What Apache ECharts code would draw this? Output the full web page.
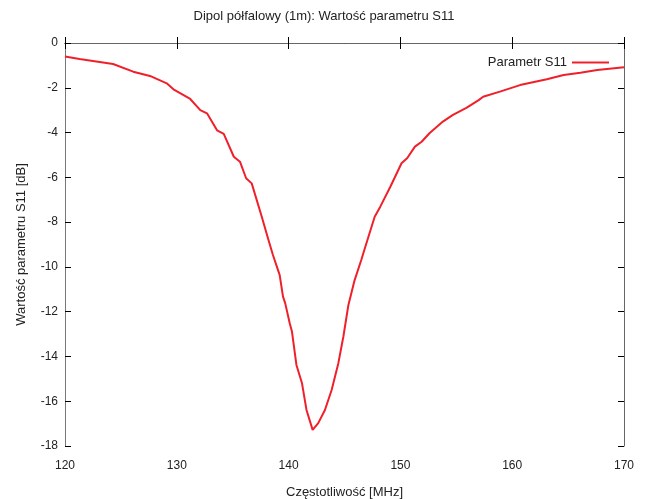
<!DOCTYPE html>
<html>
<head>
<meta charset="utf-8">
<script src="https://cdn.jsdelivr.net/npm/echarts@6/dist/echarts.min.js"></script>
<style>html,body{margin:0;padding:0;background:#fff}#c{width:648px;height:499px}</style>
</head>
<body>
<div id="c"></div>
<script>
var freq = [120.0,121.3,122.5,124.3,126.1,127.6,129.1,129.7,131.2,132.1,132.7,133.6,134.2,135.1,135.65,136.2,136.7,137.6,138.2,138.6,139.1,139.2,139.5,139.7,140.1,140.3,140.7,141.2,141.6,142.15,142.65,143.25,143.85,144.45,144.9,145.35,145.9,146.5,146.8,147.7,148.2,149.1,150.1,150.6,151.3,151.9,152.6,153.8,154.7,155.9,157.0,157.4,158.9,160.7,163.1,164.6,166.1,167.6,170.0];
var s11 = [-0.60,-0.71,-0.80,-0.94,-1.28,-1.47,-1.80,-2.07,-2.50,-3.00,-3.14,-3.90,-4.06,-5.08,-5.30,-6.04,-6.27,-7.76,-8.80,-9.47,-10.21,-10.36,-11.33,-11.63,-12.52,-12.89,-14.38,-15.20,-16.39,-17.28,-16.98,-16.39,-15.50,-14.30,-13.11,-11.70,-10.60,-9.69,-9.20,-7.76,-7.31,-6.42,-5.37,-5.15,-4.63,-4.41,-4.03,-3.51,-3.21,-2.90,-2.55,-2.40,-2.17,-1.88,-1.62,-1.43,-1.33,-1.21,-1.08];
var title = 'Dipol półfalowy (1m): Wartość parametru S11';
var seriesName = 'Parametr S11';
var xName = 'Częstotliwość [MHz]';
var yName = 'Wartość parametru S11 [dB]';

var FONT = '"Liberation Sans",Arial,sans-serif';
var data = freq.map(function(f,i){return [f, s11[i]];});
var tick = {show:true, inside:true, length:6, lineStyle:{color:'#000'}};
var chart = echarts.init(document.getElementById('c'));
chart.setOption({
  animation:false,
  title:{text:title, left:'center', top:5, textStyle:{fontFamily:FONT, fontSize:13, fontWeight:'normal', color:'#222'}},
  legend:{right:34, top:51, itemWidth:37, itemHeight:2, align:'right', icon:'rect', itemGap:6,
    textStyle:{fontFamily:FONT, fontSize:13, color:'#222'}, data:[seriesName]},
  grid:{left:65, right:24, top:43, bottom:53, containLabel:false, outerBoundsMode:'none'},
  xAxis:[
    {type:'value', min:120, max:170, interval:10, position:'bottom',
     name:xName, nameLocation:'middle', nameGap:40, nameTextStyle:{fontFamily:FONT, fontSize:13, color:'#222'},
     axisLine:{show:true, lineStyle:{color:'#000', width:1}}, axisTick:tick, splitLine:{show:false},
     axisLabel:{fontFamily:FONT, fontSize:12, color:'#222', margin:14}},
    {type:'value', min:120, max:170, interval:10, position:'top',
     axisLine:{show:true, lineStyle:{color:'#666', width:1}}, axisTick:tick, splitLine:{show:false}, axisLabel:{show:false}}
  ],
  yAxis:[
    {type:'value', min:-18, max:0, interval:2, position:'left',
     name:yName, nameLocation:'middle', nameGap:37, nameTextStyle:{fontFamily:FONT, fontSize:13, color:'#222'},
     axisLine:{show:true, lineStyle:{color:'#777', width:1}}, axisTick:tick, splitLine:{show:false},
     axisLabel:{fontFamily:FONT, fontSize:12, color:'#222', margin:7}},
    {type:'value', min:-18, max:0, interval:2, position:'right',
     axisLine:{show:true, lineStyle:{color:'#666', width:1}}, axisTick:tick, splitLine:{show:false}, axisLabel:{show:false}}
  ],
  series:[{name:seriesName, type:'line', data:data, showSymbol:false, symbol:'none',
    lineStyle:{color:'#f0202a', width:2}, itemStyle:{color:'#f0202a'}}]
});
</script>
</body>
</html>
